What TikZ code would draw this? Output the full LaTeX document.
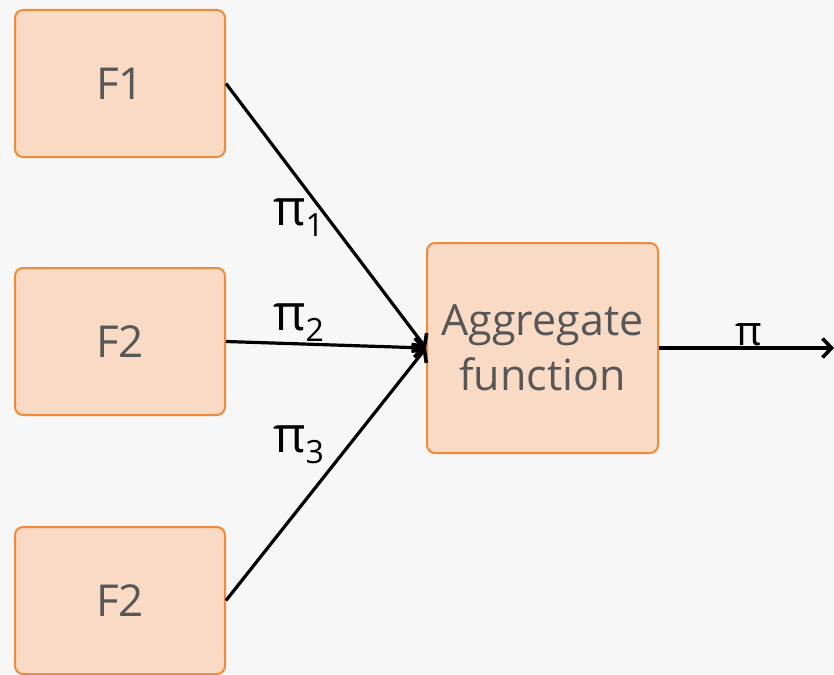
\documentclass[tikz,border=0pt]{standalone}
\usepackage{fontspec}
\setmainfont{Open Sans}
\usetikzlibrary{arrows.meta}
\definecolor{bg}{HTML}{F7F7F7}
\definecolor{boxfill}{HTML}{F8DAC5}
\definecolor{boxdraw}{HTML}{F08A3C}
\definecolor{txt}{HTML}{575757}
\newcommand{\lowsub}[1]{\raisebox{-11pt}{\fontsize{32}{32}\selectfont #1}}
\tikzset{
  fbox/.style={draw=boxdraw, fill=boxfill, line width=2pt, rounded corners=8pt,
    minimum width=210pt, minimum height=147pt, inner sep=0pt, text=txt,
    font=\fontsize{44}{50}\selectfont},
  aggbox/.style={fbox, minimum width=231pt, minimum height=210pt, align=center,
    font=\fontsize{43}{55}\selectfont},
  conn/.style={line width=3.2pt, -{Straight Barb[length=9pt,width=19pt,line width=3.6pt]}},
  lbl/.style={font=\fontsize{50}{50}\selectfont, inner sep=0pt, text=black, anchor=base west}
}
\begin{document}
\begin{tikzpicture}[x=1pt,y=-1pt]
\useasboundingbox (0,0) rectangle (834,674);
\fill[bg] (0,0) rectangle (834,674);
\node[fbox] (f1) at (120,83.5) {F1};
\node[fbox] (f2) at (120,341.5) {F2};
\node[fbox] (f3) at (120,600.5) {F2};
\node[aggbox] (agg) at (542.5,348) {Aggregate\\function};
\coordinate (out) at (834,348);
\draw[conn] (f1.east) -- (agg.west);
\draw[conn] (f2.east) -- (agg.west);
\draw[conn] (f3.east) -- (agg.west);
\draw[conn] (agg.east) -- (out);
\node[lbl] (l1) at (273,225) {π\lowsub{1}};
\node[lbl] (l2) at (273,330) {π\lowsub{2}};
\node[lbl] (l3) at (273,452) {π\lowsub{3}};
\node[lbl, font=\fontsize{41}{41}\selectfont] (l4) at (735,345) {π};
\end{tikzpicture}
\end{document}
